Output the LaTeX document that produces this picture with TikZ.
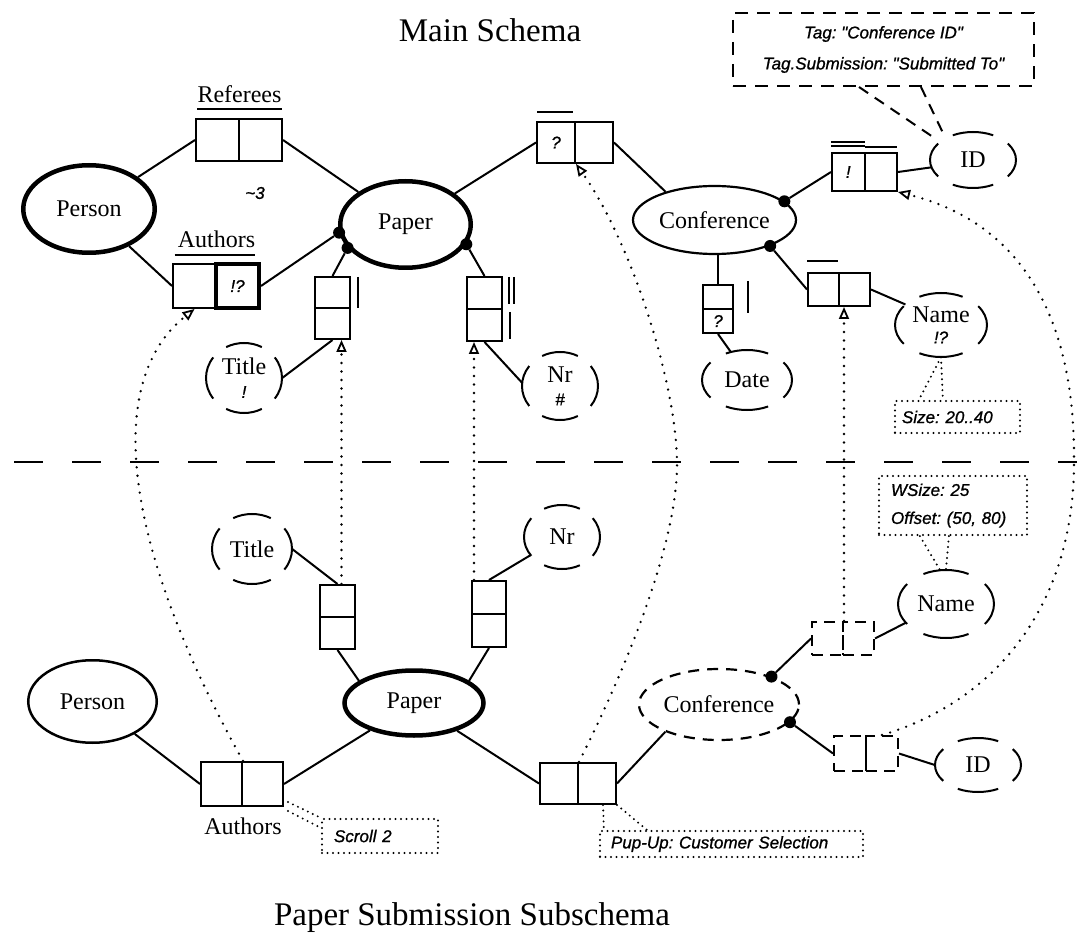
\documentclass[tikz,border=0pt]{standalone}
\usepackage{fontspec}
\setmainfont{Liberation Serif}
\newfontfamily\annot{Liberation Sans}[ItalicFeatures={FakeBold=1}]
\usetikzlibrary{shapes.geometric,arrows.meta,calc}
\frenchspacing

\newcommand\atfont{\annot\itshape\fontsize{17}{20}\selectfont}
\newcommand\lbfont{\fontsize{24}{28}\selectfont}

\tikzset{
 conn/.style={line width=2pt},
 ent/.style={ellipse, draw, line width=2.2pt, inner sep=0pt, font=\lbfont},
 entthick/.style={ent, line width=4.5pt},
 cellb/.style 2 args={draw, line width=2pt, minimum width=#1, minimum height=#2, inner sep=0pt, font=\atfont},
 dcell/.style 2 args={cellb={#1}{#2}, dash pattern=on 11pt off 7pt},
 dot/.style={circle, fill=black, inner sep=0pt, minimum size=12pt},
 attrnode/.style={ellipse, inner sep=0pt, font=\lbfont, align=center},
 attrline/.style={line width=2pt},
 dotarrow/.style={line width=2.6pt, dash pattern=on 0pt off 8.5pt, line cap=round, -{Triangle[open, length=12pt, width=10pt, line width=1.8pt]}},
 annodots/.style={line width=2.2pt, dash pattern=on 0pt off 5.5pt, line cap=round},
 annobox/.style={draw, annodots, inner ysep=0pt, font=\atfont, align=left},
 tagbox/.style={draw, line width=2pt, dash pattern=on 13pt off 9pt, inner sep=0pt, align=center},
 tagdash/.style={line width=2pt, dash pattern=on 11pt off 8pt},
 sepline/.style={line width=2pt, dash pattern=on 29pt off 29pt},
 barline/.style={line width=2pt},
 lab/.style={font=\lbfont, inner sep=0pt},
}

% name, x, y, rx, ry, text
\newcommand\attr[6]{%
  \node[attrnode, minimum width={2*#4}, minimum height={2*#5}] (#1) at (#2,#3) {#6};
  \foreach \c/\h in {0/36,90/28,180/36,270/28}{
    \draw[attrline] ([shift={(\c-\h:#4 and #5)}]#1.center) arc[start angle=\c-\h, end angle=\c+\h, x radius=#4, y radius=#5];
  }}

\begin{document}
\begin{tikzpicture}[x=1pt,y=-1pt]
\useasboundingbox (0,0) rectangle (1077,933);

% titles
\node[font=\fontsize{33}{40}\selectfont, inner sep=0pt] (mainT) at (490,30) {Main Schema};
\node[font=\fontsize{33}{40}\selectfont, inner sep=0pt] (subT) at (472,918) {Paper Submission Subschema};

% separator
\coordinate (sepL) at (14,462);
\coordinate (sepR) at (1077,462);
\draw[sepline] (sepL) -- (sepR);

% ---------- upper schema ----------
\node[entthick, minimum width=131.5pt, minimum height=87.5pt] (Person) at (89,209) {Person};
\node[entthick, minimum width=130.5pt, minimum height=86.5pt] (Paper) at (405.5,224.5) {Paper};
\node[ent, minimum width=163pt, minimum height=68pt] (Conf) at (714.5,220) {Conference};

% Referees
\node[cellb={43pt}{42pt}] (refL) at (217.5,140) {};
\node[cellb={43pt}{42pt}] (refR) at (260.5,140) {};
\node[lab, anchor=base] (refLab) at (239.5,103) {Referees};
\draw[conn] ([yshift=-6.5pt]refLab.base west) -- ([yshift=-6.5pt]refLab.base east);

% Authors
\node[cellb={43pt}{44pt}] (autL) at (194.5,286) {};
\node[cellb={43pt}{44pt}, line width=4pt] (autR) at (237.5,286) {!?};
\node[lab, anchor=base] (autLab) at (216.5,248) {Authors};
\draw[conn] ([xshift=-3pt,yshift=-7pt]autLab.base west) -- ([yshift=-7pt]autLab.base east);

\node[font=\atfont, inner sep=0pt] (tilde3) at (255,193) {\textasciitilde 3};

% ? box
\node[cellb={38pt}{41pt}] (qL) at (556,142.5) {?};
\node[cellb={38pt}{41pt}] (qR) at (594,142.5) {};
\draw[conn] ([xshift=1pt,yshift=9pt]qL.north west) -- ([xshift=-3pt,yshift=9pt]qL.north east);

% ! box
\node[cellb={32.5pt}{38pt}] (exL) at (848.25,172) {!};
\node[cellb={32.5pt}{38pt}] (exR) at (880.75,172) {};
\draw[conn] ([yshift=10pt]exL.north west) -- ([xshift=-1pt,yshift=10pt]exL.north east);
\draw[conn] ([yshift=6pt]exL.north west) -- ([xshift=-1pt,yshift=6pt]exL.north east);
\draw[conn] ([xshift=1pt,yshift=5pt]exR.north west) -- ([xshift=-1pt,yshift=5pt]exR.north east);

% Name box (upper)
\node[cellb={31pt}{33pt}] (nmL) at (823.5,289.5) {};
\node[cellb={31pt}{33pt}] (nmR) at (854.5,289.5) {};
\draw[conn] ([yshift=11pt]nmL.north west) -- ([xshift=-2pt,yshift=11pt]nmL.north east);

% Title box (upper)
\node[cellb={35pt}{31pt}] (ttT) at (332.5,292.5) {};
\node[cellb={35pt}{31pt}] (ttB) at (332.5,323.5) {};
\draw[barline] ([xshift=7pt,yshift=-1pt]ttT.north east) -- ([xshift=7pt,yshift=1pt]ttT.south east);

% Nr box (upper)
\node[cellb={35pt}{32pt}] (ntT) at (484.5,293) {};
\node[cellb={35pt}{32pt}] (ntB) at (484.5,325) {};
\draw[barline] ([xshift=6pt,yshift=-1pt]ntT.north east) -- ([xshift=6pt,yshift=6pt]ntT.south east);
\draw[barline] ([xshift=11pt,yshift=-1pt]ntT.north east) -- ([xshift=11pt,yshift=6pt]ntT.south east);
\draw[line width=2.6pt] ([xshift=7pt,yshift=-4pt]ntB.north east) -- ([xshift=7pt,yshift=3pt]ntB.south east);

% Date box
\node[cellb={30pt}{24pt}] (dtT) at (718,297) {};
\node[cellb={30pt}{24pt}] (dtB) at (718,321) {?};
\draw[barline] ([xshift=14pt,yshift=3pt]dtT.north east) -- ([xshift=14pt,yshift=-3pt]dtT.south east);

% dots
\node[dot] (pd1) at (Paper.187) {};
\node[dot] (pd2) at (Paper.202) {};
\node[dot] (pd3) at (Paper.342) {};
\node[dot] (cd1) at (Conf.15) {};
\node[dot] (cd2) at (Conf.335) {};

% attributes (upper)
\attr{Title}{244}{378}{38}{35}{Title\\[-5pt]{\atfont !}}
\attr{Nr}{560}{386}{38}{34}{Nr\\[-5pt]{\atfont \#}}
\attr{Date}{747}{380}{45}{30}{Date}
\attr{Name}{941}{325}{46}{32}{Name\\[-7pt]{\atfont !?}}
\attr{IDt}{973}{160}{43}{28}{ID}

% tag box
\node[tagbox, minimum width=301pt, minimum height=73pt, font=\annot\itshape\fontsize{17}{31}\selectfont] (tag) at (883.5,49.5) {Tag: "Conference ID"\\Tag.Submission: "Submitted To"};
\coordinate (idA) at ([xshift=-40pt,yshift=23pt]IDt.center);
\coordinate (idB) at ([xshift=-30pt,yshift=27pt]IDt.center);
\draw[tagdash] ([xshift=127pt]tag.south west) -- (idA);
\draw[tagdash] ([xshift=189pt]tag.south west) -- (idB);

% size box
\node[annobox, text width=111pt, inner xsep=7pt, minimum height=32pt] (size) at (957.5,417) {Size: 20..40};
\draw[annodots] (Name.south) -- ([xshift=25pt]size.north west);
\draw[annodots] (Name.south) -- ([xshift=49pt]size.north west);

% upper connectors
\draw[conn] (Person) -- (refL.west);
\draw[conn] (refR.east) -- (Paper);
\draw[conn] (Person) -- (autL.west);
\draw[conn] (autR.east) -- (pd1);
\draw[conn] (pd2) -- (ttT.north);
\draw[conn] (pd3) -- (ntT.north);
\draw[conn] (Paper) -- (qL.west);
\draw[conn] (qR.east) -- (Conf.150);
\draw[conn] (cd1) -- (exL.west);
\draw[conn] (exR.east) -- (IDt.190);
\draw[conn] (cd2) -- (nmL.west);
\draw[conn] (nmR.east) -- (Name.150);
\draw[conn] (Conf.south -| dtT.north) -- (dtT.north);
\draw[conn] (dtB.south) -- (Date.120);
\draw[conn] (ttB.south) -- (Title.east);
\draw[conn] (ntB.south) -- (Nr.175);

% ---------- lower schema ----------
\node[ent, line width=2.5pt, minimum width=128.5pt, minimum height=82.5pt] (Person2) at (92.5,701.5) {Person};
\node[entthick, minimum width=139pt, minimum height=65pt] (Paper2) at (414,703) {Paper};
\node[ent, dash pattern=on 11pt off 8pt, minimum width=160pt, minimum height=71pt] (Conf2) at (719,704.5) {Conference};

\node[cellb={35pt}{32pt}] (ltT) at (337.5,601) {};
\node[cellb={35pt}{32pt}] (ltB) at (337.5,633) {};
\node[cellb={34pt}{33pt}] (lnT) at (489,597.5) {};
\node[cellb={34pt}{33pt}] (lnB) at (489,630.5) {};
\node[cellb={41pt}{44pt}] (laL) at (221.5,784) {};
\node[cellb={41pt}{44pt}] (laR) at (262.5,784) {};
\node[lab] (autLab2) at (243,826) {Authors};
\node[cellb={38pt}{41pt}] (pbL) at (559,783.5) {};
\node[cellb={38pt}{41pt}] (pbR) at (597,783.5) {};
\node[dcell={31pt}{33pt}] (lnmL) at (827.5,638.5) {};
\node[dcell={31pt}{33pt}] (lnmR) at (858.5,638.5) {};
\node[dcell={32pt}{35pt}] (lidL) at (850,753.5) {};
\node[dcell={32pt}{35pt}] (lidR) at (882,753.5) {};

\node[dot] (c2d1) at (Conf2.28) {};
\node[dot] (c2d2) at (Conf2.346) {};

\attr{Title2}{252}{549}{40}{35}{Title}
\attr{Nr2}{562}{537}{38}{32}{Nr}
\attr{Name2}{946}{604}{48}{34}{Name}
\attr{ID2}{978}{765}{43}{27}{ID}

% annotation boxes (lower)
\node[annobox, text width=124pt, inner xsep=12pt, minimum height=59pt, font=\annot\itshape\fontsize{17}{28}\selectfont] (ws) at (953,505.5) {WSize: 25\\Offset: (50, 80)};
\node[annobox, text width=92pt, inner xsep=12pt, minimum height=34pt] (scroll) at (380,836) {Scroll 2};
\node[annobox, text width=241pt, inner xsep=11pt, minimum height=26pt] (pup) at (731.5,844) {Pup-Up: Customer Selection};

\draw[annodots] ([xshift=42pt]ws.south west) -- (Name2.100);
\draw[annodots] ([xshift=71pt]ws.south west) -- (Name2.north);
\draw[annodots] ([xshift=6pt]pbR.south) -- ([xshift=5pt]pup.north west);
\draw[annodots] (pbR.south east) -- ([xshift=48pt]pup.north west);
\draw[annodots] ([xshift=4pt,yshift=5pt]laR.south east) -- (scroll.north west);
\draw[annodots] ([xshift=4pt,yshift=-4pt]laR.south east) -- ([yshift=-10pt]scroll.north west);

% lower connectors
\draw[conn] (Person2) -- (laL.west);
\draw[conn] (laR.east) -- (Paper2);
\draw[conn] (Paper2) -- (pbL.west);
\draw[conn] (pbR.east) -- (Conf2.207);
\draw[conn] (ltB.south) -- (Paper2.158);
\draw[conn] (lnB.south) -- (Paper2.22);
\draw[conn] (Title2.east) -- (ltT.north);
\draw[conn] (lnT.north) -- (Nr2.210);
\draw[conn] (c2d1) -- (lnmL.west);
\draw[conn] (lnmR.east) -- (Name2.205);
\draw[conn] (c2d2) -- (lidL.west);
\draw[conn] (lidR.east) -- (ID2.west);

% dotted correspondence arrows
\coordinate (tA) at ([xshift=4pt]ltT.north);
\draw[dotarrow] (tA) -- (tA |- ttB.south);
\coordinate (nA) at ([xshift=-15pt]lnT.north);
\draw[dotarrow] (nA) -- (nA |- ntB.south);
\draw[dotarrow] (lnmL.north east) -- (lnmL.north east |- nmL.south east);
\draw[dotarrow] (laL.north east) .. controls (120,540) and (105,380) .. (autL.south);
\draw[dotarrow] (pbL.north east) .. controls (640,640) and (678,530) .. (677,462) .. controls (676,380) and (630,240) .. (qL.south east);
\draw[dotarrow] (lidR.north) .. controls (1000,700) and (1075,600) .. (1074,460) .. controls (1075,330) and (1030,225) .. (exR.south east);

\end{tikzpicture}
\end{document}
